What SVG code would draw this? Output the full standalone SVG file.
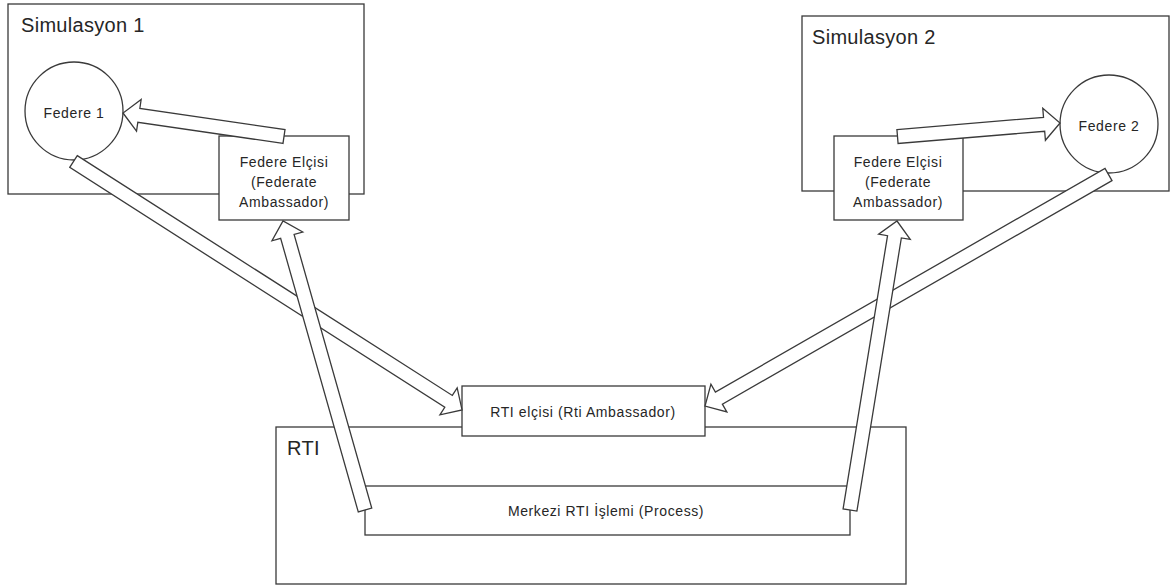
<svg xmlns="http://www.w3.org/2000/svg" width="1172" height="586" viewBox="0 0 1172 586">
<style>
  .box { fill: #fff; stroke: #3a3a3a; stroke-width: 1.3; }
  .arrow { fill: #fff; stroke: #3a3a3a; stroke-width: 1.3; stroke-linejoin: miter; }
  .title { font-family: "Liberation Sans", Arial, sans-serif; font-size: 20px; fill: #262626; letter-spacing: 0.3px; }
  .lbl { font-family: "Liberation Sans", Arial, sans-serif; font-size: 14px; fill: #262626; letter-spacing: 0.6px; text-anchor: middle; }
</style>
<rect width="1172" height="586" fill="#fff"/>

<g id="simulasyon1">
  <rect class="box" x="8" y="4" width="356" height="190"/>
  <text class="title" x="21" y="32">Simulasyon 1</text>
</g>
<g id="simulasyon2">
  <rect class="box" x="802" y="16" width="367" height="175"/>
  <text class="title" x="812" y="44">Simulasyon 2</text>
</g>
<g id="rti">
  <rect class="box" x="276" y="427" width="630" height="157"/>
  <text class="title" x="287" y="455">RTI</text>
</g>
<g id="federe1">
  <circle class="box" cx="74" cy="111" r="49"/>
  <text class="lbl" x="74" y="118">Federe 1</text>
</g>
<g id="federe2">
  <circle class="box" cx="1109" cy="124" r="49"/>
  <text class="lbl" x="1109" y="131">Federe 2</text>
</g>
<g id="elcisi1">
  <rect class="box" x="219" y="136" width="130" height="84"/>
  <text class="lbl" x="284" y="167">Federe Elçisi</text>
  <text class="lbl" x="284" y="187">(Federate</text>
  <text class="lbl" x="284" y="207">Ambassador)</text>
</g>
<g id="elcisi2">
  <rect class="box" x="834" y="136" width="129" height="84"/>
  <text class="lbl" x="898" y="167">Federe Elçisi</text>
  <text class="lbl" x="898" y="187">(Federate</text>
  <text class="lbl" x="898" y="207">Ambassador)</text>
</g>
<g id="rti-elcisi">
  <rect class="box" x="462" y="386" width="243" height="50"/>
  <text class="lbl" x="583" y="417">RTI elçisi (Rti Ambassador)</text>
</g>
<g id="merkezi">
  <rect class="box" x="365" y="486" width="485" height="49"/>
  <text class="lbl" x="606" y="516">Merkezi RTI İşlemi (Process)</text>
</g>

<g id="connectors">
  <!-- Federe Elçisi 1 -> Federe 1 -->
  <polygon class="arrow" transform="translate(284,136.5) rotate(188.3)" points="0,-7 146.7,-7 146.7,-16 162.7,0 146.7,16 146.7,7 0,7"/>
  <!-- Federe 1 -> RTI elçisi -->
  <polygon class="arrow" transform="translate(73.5,161.5) rotate(32.6)" points="0,-7 445.2,-7 445.2,-16 461.2,0 445.2,16 445.2,7 0,7"/>
  <!-- Federe Elçisi 2 -> Federe 2 -->
  <polygon class="arrow" transform="translate(897.5,136.5) rotate(-4.75)" points="0,-7 147.1,-7 147.1,-16 163.1,0 147.1,16 147.1,7 0,7"/>
  <!-- Federe 2 -> RTI elçisi -->
  <polygon class="arrow" transform="translate(1108.5,174.5) rotate(150.15)" points="0,-7 449.2,-7 449.2,-16 465.2,0 449.2,16 449.2,7 0,7"/>
  <!-- Merkezi -> Federe Elçisi 1 -->
  <polygon class="arrow" transform="translate(365,510) rotate(-105.84)" points="0,-7 284.4,-7 284.4,-16 300.4,0 284.4,16 284.4,7 0,7"/>
  <!-- Merkezi -> Federe Elçisi 2 -->
  <polygon class="arrow" transform="translate(850,510) rotate(-80.76)" points="0,-7 276.8,-7 276.8,-16 292.8,0 276.8,16 276.8,7 0,7"/>
</g>
</svg>
